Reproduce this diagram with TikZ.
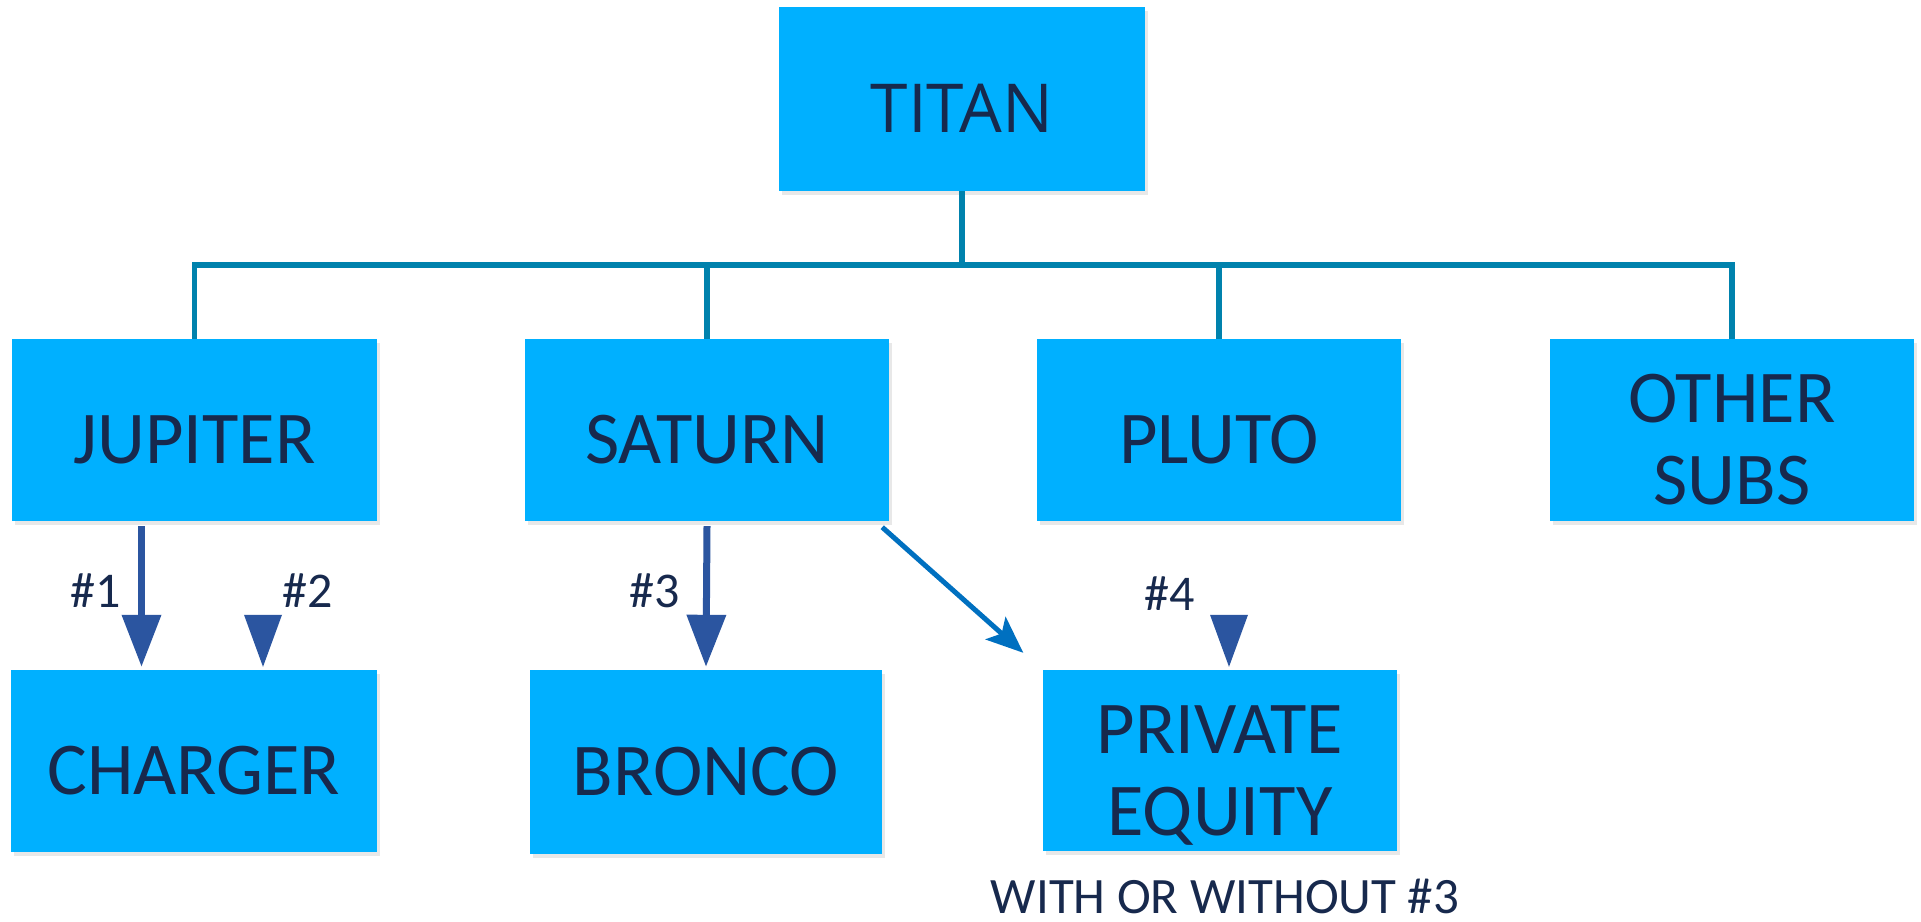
\documentclass[tikz,border=0pt]{standalone}
\usepackage{fontspec}
\setmainfont{Carlito}
\newfontfamily\titanfont{Open Sans}
\usetikzlibrary{arrows.meta,shadows}
\definecolor{boxblue}{HTML}{00B0FF}
\definecolor{navy}{HTML}{17294D}
\definecolor{busteal}{HTML}{0082AD}
\definecolor{arrblue}{HTML}{2B55A0}
\definecolor{diagblue}{HTML}{0070C0}
\begin{document}
\begin{tikzpicture}[x=1pt,y=-1pt,
  orgbox/.style={fill=boxblue, draw=none, inner sep=0pt, minimum width=364pt, minimum height=182pt,
    text=navy, font=\fontsize{74.5}{82}\selectfont, align=center,
    drop shadow={shadow xshift=3pt,shadow yshift=-4pt,opacity=0.18}},
  oneline/.style={text height=66pt, text depth=0pt},
  twoline/.style={text height=148pt, text depth=0pt},
  busline/.style={draw=busteal, line width=5.5pt},
  vshaft/.style={draw=arrblue, line width=7pt, -{Triangle[width=38pt,length=52pt]}},
  headonly/.style={fill=arrblue},
  diag/.style={draw=diagblue, line width=5pt, -{Stealth[length=37pt,width=30pt,inset=8pt]}},
  lbl/.style={text=navy, font=\fontsize{50}{60}\selectfont, anchor=base, inner sep=0pt},
  note/.style={text=navy, font=\fontsize{51}{60}\selectfont, anchor=base, inner sep=0pt, text depth=0pt}
]
\path[fill=white, use as bounding box] (0,0) rectangle (1921,921);

% boxes
\node[orgbox, oneline, minimum width=366pt, minimum height=184pt, font=\titanfont\fontsize{67.5}{80}\selectfont] (TITAN) at (962,99) {TITAN};
\node[orgbox, oneline, minimum width=365pt] (JUPITER) at (194.5,430) {JUPITER};
\node[orgbox, oneline] (SATURN) at (707,430) {SATURN};
\node[orgbox, oneline] (PLUTO) at (1219,430) {PLUTO};
\node[orgbox, twoline] (OTHER) at (1732,430) {OTHER\\SUBS};
\node[orgbox, oneline, minimum width=366pt] (CHARGER) at (194,761) {CHARGER};
\node[orgbox, oneline, minimum width=352pt, minimum height=184pt] (BRONCO) at (706,762) {BRONCO};
\node[orgbox, twoline, minimum width=354pt, minimum height=181pt, text height=149pt] (PE) at (1220,760.5) {PRIVATE\\EQUITY};

% tree connectors
\coordinate (bus) at (962,265);
\draw[busline] (TITAN.south) -- (bus);
\draw[busline, line join=miter] (JUPITER.north) -- (JUPITER.north |- bus) -- (OTHER.north |- bus) -- (OTHER.north);
\draw[busline] (SATURN.north) -- (SATURN.north |- bus);
\draw[busline] (PLUTO.north) -- (PLUTO.north |- bus);

% arrows
\draw[vshaft] ([xshift=-53pt,yshift=-5pt]JUPITER.south) -- ([xshift=-52.5pt,yshift=3pt]CHARGER.north);
\draw[vshaft] ([yshift=-5pt]SATURN.south) -- ([yshift=3pt]BRONCO.north);
\coordinate (tip2) at ([xshift=69pt,yshift=3pt]CHARGER.north);
\fill[headonly] (tip2) -- ++(-19,-52) -- ++(38,0) -- cycle;
\coordinate (tip4) at ([xshift=9pt,yshift=3pt]PE.north);
\fill[headonly] (tip4) -- ++(-19,-52) -- ++(38,0) -- cycle;
\draw[diag] ([xshift=-7pt,yshift=-6pt]SATURN.south east) -- ([xshift=-19.5pt,yshift=17pt]PE.north west);

% labels
\node[lbl] (l1) at (95.5,607) {\#1};
\node[lbl] (l2) at (308,607) {\#2};
\node[lbl] (l3) at (655,607) {\#3};
\node[lbl] (l4) at (1170,610) {\#4};
\node[note] (cond) at (1225,913) {WITH OR WITHOUT \#3};
\end{tikzpicture}
\end{document}
